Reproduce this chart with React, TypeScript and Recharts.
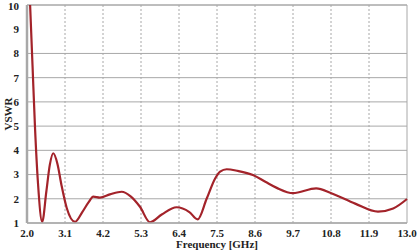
import React from 'react';
import { LineChart, Line, XAxis, YAxis, CartesianGrid, ReferenceLine } from 'recharts';

const RED = '#a3232a';
const GRID = '#a8a8a8';
const INK = '#222';

// frequency points, GHz
const freq = [
  2.09, 2.16, 2.23, 2.32, 2.44, 2.56, 2.66, 2.76, 2.88, 3.0, 3.15, 3.39, 3.6, 3.78, 3.92,
  4.11, 4.4, 4.74, 5.0, 5.27, 5.56, 5.9, 6.33, 6.7, 6.94, 7.2, 7.45, 7.59, 7.78, 8.1,
  8.54, 8.9, 9.23, 9.7, 10.37, 10.81, 11.5, 12.16, 12.6, 13.0,
];
const vswr = [
  10, 7.5, 5.0, 2.6, 1.05, 2.3, 3.4, 3.88, 3.45, 2.55, 1.62, 1.05, 1.45, 1.85, 2.09,
  2.05, 2.18, 2.29, 2.1, 1.67, 1.03, 1.35, 1.65, 1.45, 1.15, 2.0, 2.85, 3.12, 3.22, 3.15,
  2.98, 2.7, 2.45, 2.23, 2.43, 2.23, 1.8, 1.47, 1.6, 1.99,
];
const xTicks = [2.0, 3.1, 4.2, 5.3, 6.4, 7.5, 8.6, 9.7, 10.8, 11.9, 13.0];
const yTicks = [1, 2, 3, 4, 5, 6, 7, 8, 9, 10];

const data = freq.map((f, i) => ({ f, v: vswr[i] }));

const tickStyle = { fontSize: 11, fill: INK, fontWeight: 700, fontFamily: '"Liberation Serif", serif' };

export default function App() {
  return (
    <div style={{ position: 'absolute', left: 0, top: 0, width: 418, height: 251, background: '#fff' }}>
      <LineChart width={418} height={251} data={data} margin={{ top: 5, right: 11, left: 0, bottom: 0 }}>
        <CartesianGrid vertical={false} stroke={GRID} />
        {xTicks.slice(1, -1).map((t) => (
          <ReferenceLine key={t} x={t} stroke={GRID} strokeDasharray="2 2" />
        ))}
        <ReferenceLine x={13} stroke={GRID} />
        <ReferenceLine y={10} stroke={GRID} />
        <XAxis
          dataKey="f"
          type="number"
          domain={[2, 13]}
          ticks={xTicks}
          tickFormatter={(v: number) => v.toFixed(1)}
          tick={tickStyle}
          tickLine={false}
          axisLine={{ stroke: GRID, strokeWidth: 1.5 }}
          height={28}
          tickMargin={0}
          label={{ value: 'Frequency [GHz]', position: 'insideBottom', offset: 3, style: { ...tickStyle, fontSize: 11 } }}
        />
        <YAxis
          type="number"
          domain={[1, 10]}
          ticks={yTicks}
          tick={tickStyle}
          tickLine={false}
          axisLine={{ stroke: GRID, strokeWidth: 2.5 }}
          width={27}
          label={{ value: 'VSWR', angle: -90, position: 'insideLeft', offset: 8, style: { ...tickStyle, fontSize: 11, textAnchor: 'middle' } }}
        />
        <Line
          type="monotone"
          dataKey="v"
          stroke={RED}
          strokeWidth={2.2}
          dot={false}
          isAnimationActive={false}
        />
      </LineChart>
    </div>
  );
}
